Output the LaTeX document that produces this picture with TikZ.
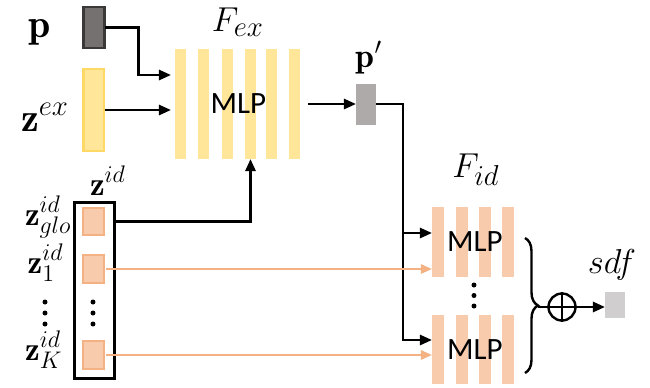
\documentclass[tikz,border=0pt]{standalone}
\usepackage{fontspec}
\newfontfamily\calib{Carlito}
\usetikzlibrary{arrows.meta,decorations.pathreplacing}
\definecolor{pdark}{HTML}{767171}
\definecolor{pdarkb}{HTML}{3B3838}
\definecolor{yel}{HTML}{FFE699}
\definecolor{yelb}{HTML}{FFD966}
\definecolor{ora}{HTML}{F8CBAD}
\definecolor{orab}{HTML}{F4B183}
\definecolor{pgray}{HTML}{AEAAAA}
\definecolor{sgray}{HTML}{D0CECE}
\newcommand{\subsz}[1]{\mbox{\fontsize{14.5pt}{15pt}\selectfont$#1$}}
\tikzset{
  x=0.5pt, y=-0.5pt,
  arr/.style={line width=1.3pt, -{Triangle[length=6pt,width=5pt]}},
  oarr/.style={orab, line width=1pt, -{Triangle[length=5.5pt,width=4.6pt]}},
  vec/.style={minimum width=10.5pt, inner sep=0pt, outer sep=0pt},
  idvec/.style={vec, fill=ora, draw=orab, line width=1.1pt, minimum height=13.5pt},
  mlp/.style={font=\calib\fontsize{15.5pt}{16pt}\selectfont, inner sep=0pt, outer sep=0pt},
  biglab/.style={font=\fontsize{20pt}{22pt}\selectfont, inner sep=0pt},
  idlab/.style={font=\fontsize{16.5pt}{18pt}\selectfont, inner sep=0pt},
  flab/.style={font=\fontsize{17pt}{19pt}\selectfont, inner sep=0pt},
  slab/.style={font=\fontsize{16.5pt}{18pt}\selectfont, inner sep=0pt},
  dot/.style={circle, fill=black, minimum size=2.5pt, inner sep=0pt},
}
\begin{document}
\begin{tikzpicture}
\useasboundingbox (0,0) rectangle (650,387);

% input vectors
\node[vec, fill=pdark, draw=pdarkb, line width=1.2pt, minimum height=20.5pt] (p) at (94,27.5) {};
\node[vec, fill=yel, draw=yelb, line width=1pt, minimum height=41pt] (zex) at (94,110) {};
\node[biglab, anchor=base] (plab) at (40,37) {$\mathbf{p}$};
\node[biglab, anchor=base] (zexlab) at (45,131) {$\mathbf{z}^{ex}$};

% F_ex MLP
\foreach \xx in {175,198,222,245,266,289}
  \fill[yel] (\xx,49) rectangle ++(11.5,110);
\node[mlp, minimum width=64.5pt, minimum height=55pt] (fex) at (238.5,104) {MLP};
\node[flab, anchor=base] (fexlab) at (238,31) {$F_{\subsz{ex}}$};

% z^id
\node[draw=black, line width=1.5pt, minimum width=20pt, minimum height=88pt, inner sep=0pt] (zid) at (95,290) {};
\node[idvec] (glo) at (93.5,221.5) {};
\node[idvec, minimum height=14pt] (z1) at (93.5,269) {};
\node[idvec, minimum height=14pt] (zK) at (93.5,355) {};
\foreach \yy [count=\i] in {302,313,324}{
  \node[dot] (din\i) at (93,\yy) {};
  \node[dot] (dout\i) at (45,\yy) {};
}
\node[idlab, anchor=base] (zidlab) at (108,195) {$\mathbf{z}^{id}$};
\node[idlab, anchor=base east] (glolab) at (72,225) {$\mathbf{z}^{id}_{glo}$};
\node[idlab, anchor=base east] (z1lab) at (64,273) {$\mathbf{z}^{id}_{1}$};
\node[idlab, anchor=base east] (zKlab) at (63,360) {$\mathbf{z}^{id}_{K}$};

% p'
\node[vec, fill=pgray, minimum width=10pt, minimum height=20.5pt] (pp) at (366,104) {};
\node[flab, anchor=base] (pplab) at (369,67) {$\mathbf{p}'$};

% F_id MLPs
\foreach \xx in {432,456,479,502}{
  \fill[ora] (\xx,207) rectangle ++(12,70);
  \fill[ora] (\xx,315) rectangle ++(12,69);
}
\node[mlp, minimum width=41pt, minimum height=35pt] (fid1) at (475,242) {MLP};
\node[mlp, minimum width=41pt, minimum height=34.5pt] (fid2) at (475,349.5) {MLP};
\node[flab, anchor=base] (fidlab) at (476,177) {$F_{\subsz{id}}$};
\foreach \yy [count=\i] in {285,295.5,306}
  \node[dot] (did\i) at (474,\yy) {};

% output
\coordinate (btip) at (538,307);
\draw[line width=1.2pt, decorate, decoration={brace, amplitude=6.5pt}] (525,238) -- (525,373);
\node[circle, draw, line width=1.2pt, minimum size=13.5pt, inner sep=0pt] (sum) at (562,307) {};
\draw[line width=1.2pt] (sum.north) -- (sum.south) (sum.west) -- (sum.east);
\draw[line width=1.2pt] (btip) -- (sum.west);
\node[vec, fill=sgray, minimum width=10pt, minimum height=13pt] (sdf) at (615,305) {};
\node[slab, anchor=base] (sdflab) at (612,273) {$sdf$};
\draw[arr] (sum.east) -- (sdf.west |- sum.east);

% connectors
\draw[arr] (p.east) -- ++(34,0) |- ([xshift=-1.5pt]fex.west |- {(0,75)});
\draw[arr] (zex.east) -- ([xshift=-1.5pt]fex.west |- zex.east);
\draw[arr] (glo.east -| zid.east) -| ([xshift=6pt]fex.south);
\draw[arr] ([xshift=2.5pt]fex.east) -- (pp.west);
\draw[arr] (pp.east) -- ++(27,0) |- ([xshift=-1pt]fid1.west |- {(0,233)});
\draw[arr] (pp.east) -- ++(27,0) |- ([xshift=-1pt]fid2.west |- {(0,340)});
\draw[oarr] ([xshift=1.2pt]z1.east) -- ([xshift=-1pt]fid1.west |- z1.east);
\draw[oarr] ([xshift=1.2pt]zK.east) -- ([xshift=-1pt]fid2.west |- zK.east);
\end{tikzpicture}
\end{document}
